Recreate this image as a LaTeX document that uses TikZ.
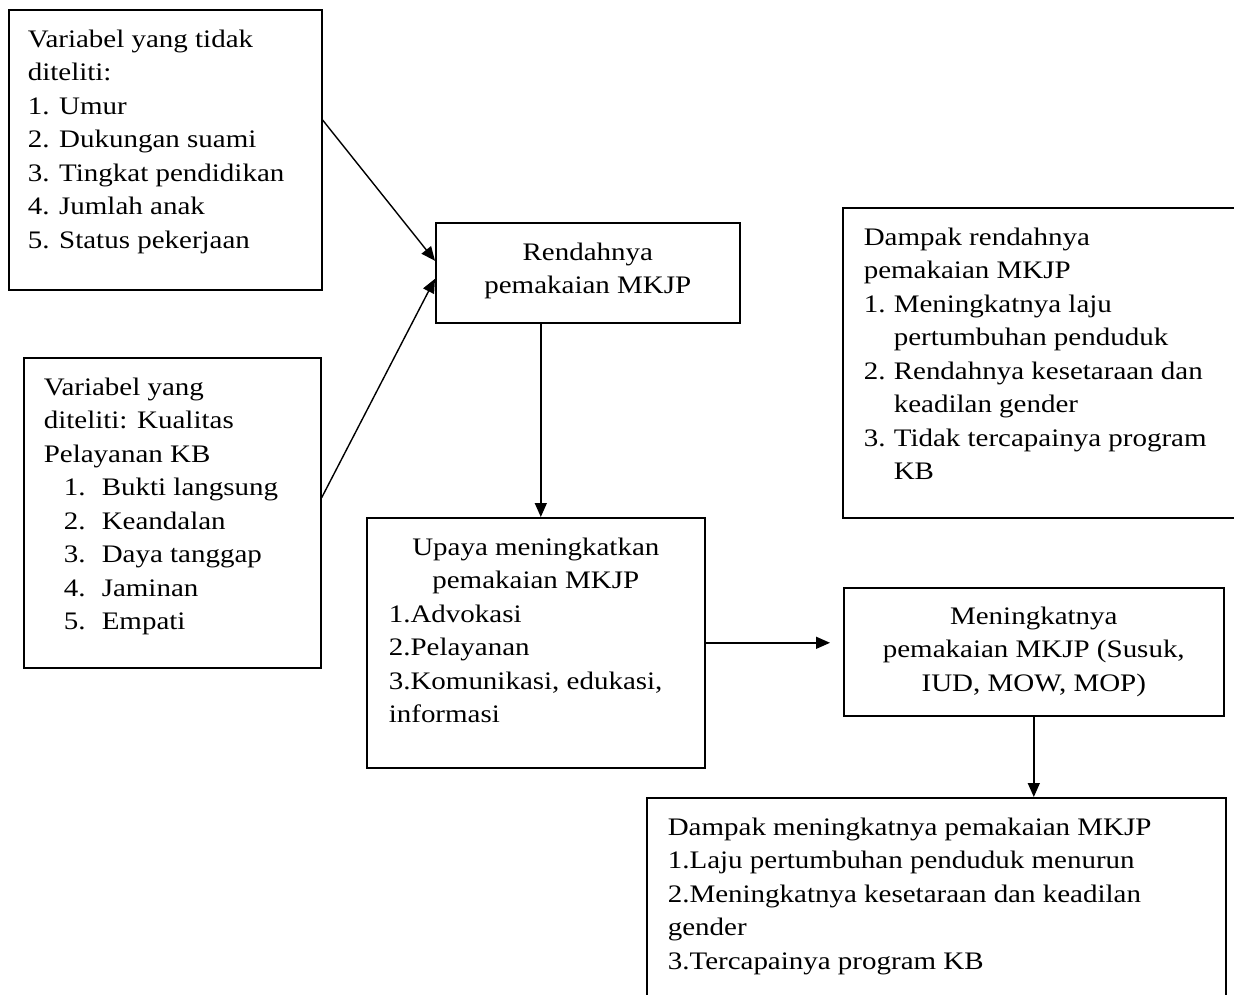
\documentclass[tikz,border=0pt]{standalone}
\usepackage{fontspec}
\setmainfont{Liberation Serif}[FakeStretch=1.15]
\usetikzlibrary{arrows.meta}
\newcommand{\isikotak}[3]{\parbox[t][#2][t]{#1}{\strut#3}}

\begin{document}
\begin{tikzpicture}[x=0.5pt, y=-0.5pt,
  kotak/.style={draw, line width=0.8pt, anchor=north west, inner ysep=7pt,
    font=\fontsize{12.6}{16.75}\selectfont},
  panah/.style={-{Triangle[length=7pt,width=6pt]}, line width=0.7pt}]
\useasboundingbox (0,0) rectangle (1234,994);
\clip (0,0) rectangle (1234,994);
\node[kotak, inner xsep=9.5pt] (tidak) at (8,9)
  {\isikotak{137.5pt}{126pt}{Variabel yang tidak\\ diteliti:\\ 1. Umur\\ 2. Dukungan suami\\
   3. Tingkat pendidikan\\ 4. Jumlah anak\\ 5. Status pekerjaan}};
\node[kotak, inner xsep=10pt] (diteliti) at (23,357)
  {\isikotak{128.5pt}{141pt}{Variabel yang\\ diteliti: Kualitas\\ Pelayanan KB\\
   \hspace*{10pt}\makebox[19pt][l]{1.}Bukti langsung\\
   \hspace*{10pt}\makebox[19pt][l]{2.}Keandalan\\
   \hspace*{10pt}\makebox[19pt][l]{3.}Daya tanggap\\
   \hspace*{10pt}\makebox[19pt][l]{4.}Jaminan\\
   \hspace*{10pt}\makebox[19pt][l]{5.}Empati}};
\node[kotak, inner xsep=5pt] (rendah) at (435,222)
  {\isikotak{142pt}{36pt}{\centering Rendahnya\\ pemakaian MKJP}};
\node[kotak, inner xsep=11pt] (upaya) at (366,517)
  {\isikotak{147pt}{111pt}{{\centering Upaya meningkatkan\\ pemakaian MKJP\par}
   1.Advokasi\\ 2.Pelayanan\\ 3.Komunikasi, edukasi,\\ informasi}};
\node[kotak, inner xsep=10.5pt] (dampakrendah) at (842,207)
  {\isikotak{183pt}{141pt}{Dampak rendahnya\\ pemakaian MKJP\\
   \makebox[15pt][l]{1.}Meningkatnya laju\\ \hspace*{15pt}pertumbuhan penduduk\\
   \makebox[15pt][l]{2.}Rendahnya kesetaraan dan\\ \hspace*{15pt}keadilan gender\\
   \makebox[15pt][l]{3.}Tidak tercapainya program\\ \hspace*{15pt}KB}};
\node[kotak, inner sep=0pt, minimum width=190pt, minimum height=64pt, align=center]
  (meningkat) at (843,587) {Meningkatnya\\ pemakaian MKJP (Susuk,\\ IUD, MOW, MOP)};
\node[kotak, inner xsep=10.5pt] (dampaknaik) at (646,797)
  {\isikotak{268.5pt}{93pt}{Dampak meningkatnya pemakaian MKJP\\
   1.Laju pertumbuhan penduduk menurun\\ 2.Meningkatnya kesetaraan dan keadilan\\
   gender\\ 3.Tercapainya program KB}};
\coordinate (turun) at ([xshift=2.5pt]upaya.north);
\draw[panah] ([yshift=-55.5pt]tidak.north east) -- ([yshift=6pt]rendah.west);
\draw[panah] ([yshift=7.5pt]diteliti.east) -- ([yshift=-3pt]rendah.west);
\draw[panah] (turun |- rendah.south) -- (turun);
\draw[panah, shorten >=6.5pt] (upaya.east) -- (upaya.east -| meningkat.west);
\draw[panah] (meningkat.south) -- (meningkat.south |- dampaknaik.north);
\end{tikzpicture}
\end{document}
